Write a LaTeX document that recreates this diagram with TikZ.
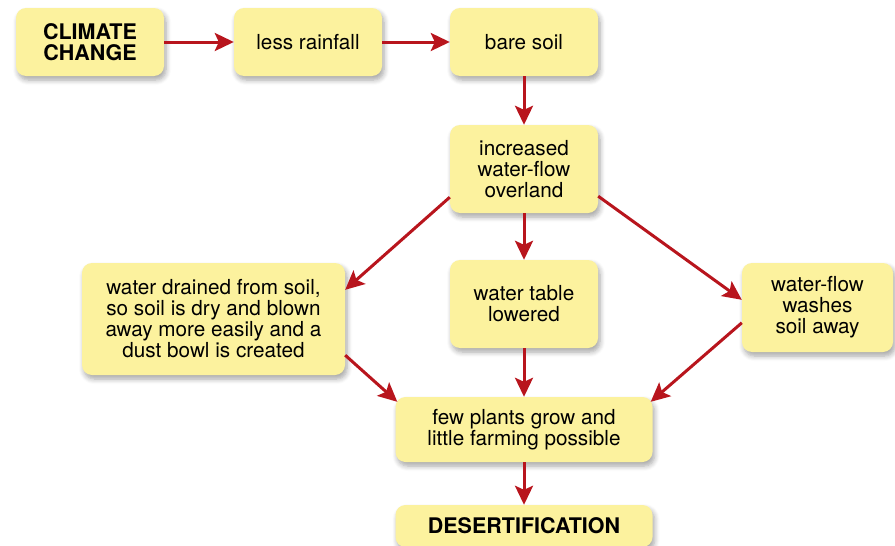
\documentclass[tikz,border=0pt]{standalone}
\usepackage{fontspec}
\setmainfont{TeX Gyre Heros}
\usetikzlibrary{arrows.meta,shadows.blur}
\definecolor{boxfill}{HTML}{FCF29E}
\definecolor{arrred}{HTML}{B8151D}
\tikzset{
  box/.style={draw=none, fill=boxfill, rounded corners=10pt, align=center,
    inner sep=2pt, font=\fontsize{20.7}{21}\selectfont,
    blur shadow={shadow xshift=2pt, shadow yshift=-4pt, shadow opacity=35, shadow blur steps=6, shadow blur radius=5pt}},
  bbox/.style={box, font=\fontsize{21.5}{21.5}\selectfont\bfseries},
  arr/.style={draw=arrred, line width=3pt, -{Stealth[length=19pt,width=18pt,inset=4pt]}}
}
\begin{document}
\begin{tikzpicture}[x=1pt,y=-1pt]
\useasboundingbox (0,0) rectangle (895,546);
\node[bbox, minimum width=148pt, minimum height=68pt] (cc) at (90,42) {CLIMATE\\CHANGE};
\node[box, minimum width=148pt, minimum height=68pt] (lr) at (308,42) {less rainfall};
\node[box, minimum width=148pt, minimum height=68pt] (bs) at (524,42) {bare soil};
\node[box, minimum width=148pt, minimum height=88pt] (inc) at (524,169) {increased\\water-flow\\overland};
\node[box, minimum width=263pt, minimum height=112pt] (dr) at (213.5,319) {water drained from soil,\\so soil is dry and blown\\away more easily and a\\dust bowl is created};
\node[box, minimum width=148pt, minimum height=88pt] (wt) at (524,304) {water table\\lowered};
\node[box, minimum width=151pt, minimum height=89pt] (wa) at (817.5,307.5) {water-flow\\washes\\soil away};
\node[box, minimum width=257pt, minimum height=65pt] (few) at (524,429.5) {few plants grow and\\little farming possible};
\node[bbox, minimum width=257pt, minimum height=42pt] (des) at (524,526) {DESERTIFICATION};

\draw[arr] (cc.east) -- (lr.west);
\draw[arr] (lr.east) -- (bs.west);
\draw[arr] (bs.south) -- (inc.north);
\draw[arr] ([yshift=16pt]inc.south west) -- ([yshift=-27pt]dr.north east);
\draw[arr] (inc.south) -- (wt.north);
\draw[arr] ([yshift=17pt]inc.south east) -- ([yshift=-37pt]wa.north west);
\draw[arr] ([yshift=20pt]dr.south east) -- ([xshift=2pt,yshift=-5pt]few.north west);
\draw[arr] (wt.south) -- (few.north);
\draw[arr] ([yshift=-60pt]wa.north west) -- ([xshift=-2pt,yshift=-5pt]few.north east);
\draw[arr] (few.south) -- (des.north);
\end{tikzpicture}
\end{document}
